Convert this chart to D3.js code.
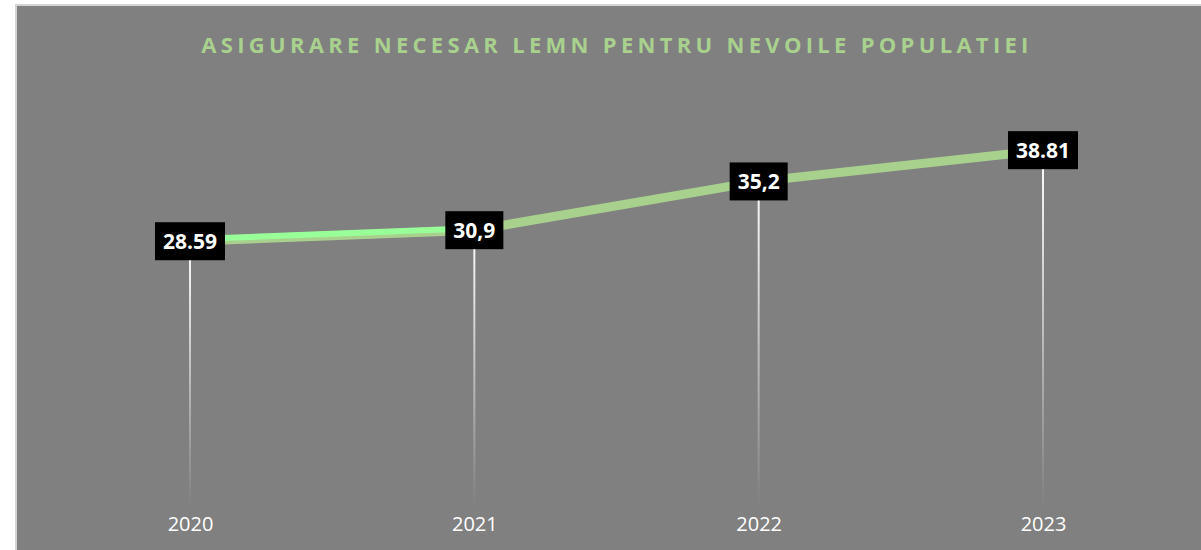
<!DOCTYPE html>
<html>
<head>
<meta charset="utf-8">
<script src="https://cdn.jsdelivr.net/npm/d3@7/dist/d3.min.js"></script>
<style>
  body { margin: 0; background: #fff; }
  svg { display: block; }
</style>
</head>
<body>
<svg width="1201" height="550"></svg>
<script>
// data
var years = ["2020", "2021", "2022", "2023"];
var values = [28.59, 29.83, 35.3, 38.81];
var labels = ["28.59", "30,9", "35,2", "38.81"];
// first segment drawn a second time in bright green
var highlightYears = ["2020", "2021"];
var highlightValues = [28.59, 29.83];

var svg = d3.select("svg"),
    width = +svg.attr("width"),
    height = +svg.attr("height");

// chart area frame
svg.append("rect")
    .attr("x", 16).attr("y", 5)
    .attr("width", width).attr("height", height)
    .attr("fill", "#808080")
    .attr("stroke", "#d4d4d4")
    .attr("stroke-width", 2);

svg.append("text")
    .attr("x", 617).attr("y", 53)
    .attr("text-anchor", "middle")
    .attr("fill", "#a9d18e")
    .style("font-family", "'Open Sans', sans-serif")
    .style("font-weight", "bold")
    .style("font-size", "22px")
    .style("letter-spacing", "4.3px")
    .text("ASIGURARE NECESAR LEMN PENTRU NEVOILE POPULATIEI");

var x = d3.scalePoint()
    .domain(years)
    .range([190, 1043]);

var y = d3.scaleLinear()
    .domain([0, 45])
    .range([496, 95]);

var defs = svg.append("defs");
var grad = defs.append("linearGradient")
    .attr("id", "drop")
    .attr("x1", 0).attr("y1", 0).attr("x2", 0).attr("y2", 1);
grad.append("stop").attr("offset", "0%").attr("stop-color", "#fff").attr("stop-opacity", 1);
grad.append("stop").attr("offset", "100%").attr("stop-color", "#fff").attr("stop-opacity", 0);

// drop lines
svg.append("g")
    .selectAll("rect")
    .data(values)
    .enter().append("rect")
      .attr("x", function(d, i) { return x(years[i]) - 1; })
      .attr("y", function(d) { return y(d); })
      .attr("width", 2)
      .attr("height", function(d) { return y(0) - y(d) + 10; })
      .attr("fill", "url(#drop)");

var line = d3.line()
    .x(function(d) { return x(d[0]); })
    .y(function(d) { return y(d[1]); });

svg.append("path")
    .datum(d3.zip(years, values))
    .attr("d", line)
    .attr("fill", "none")
    .attr("stroke", "#a9d18e")
    .attr("stroke-width", 9);

svg.append("path")
    .datum(d3.zip(highlightYears, highlightValues))
    .attr("d", line)
    .attr("transform", "translate(0,-2)")
    .attr("fill", "none")
    .attr("stroke", "#99ff99")
    .attr("stroke-width", 6);

// data labels
var lab = svg.append("g")
    .selectAll("g")
    .data(values)
    .enter().append("g")
      .attr("transform", function(d, i) { return "translate(" + x(years[i]) + "," + y(d) + ")"; });

lab.append("text")
    .attr("text-anchor", "middle")
    .attr("dy", "0.36em")
    .attr("fill", "#fff")
    .style("font-family", "'Open Sans', sans-serif")
    .style("font-weight", "bold")
    .style("font-size", "21px")
    .text(function(d, i) { return labels[i]; })
    .each(function() {
      var b = this.getBBox();
      d3.select(this.parentNode).insert("rect", "text")
          .attr("x", b.x - 8)
          .attr("y", -19)
          .attr("width", b.width + 16)
          .attr("height", 38)
          .attr("fill", "#000");
    });

// category axis
var axis = svg.append("g")
    .attr("transform", "translate(0,505)")
    .call(d3.axisBottom(x).tickSize(0).tickPadding(12));
axis.select(".domain").remove();
axis.selectAll("text")
    .attr("fill", "#fff")
    .style("font-family", "'Open Sans', sans-serif")
    .style("font-size", "20px");
</script>
</body>
</html>
